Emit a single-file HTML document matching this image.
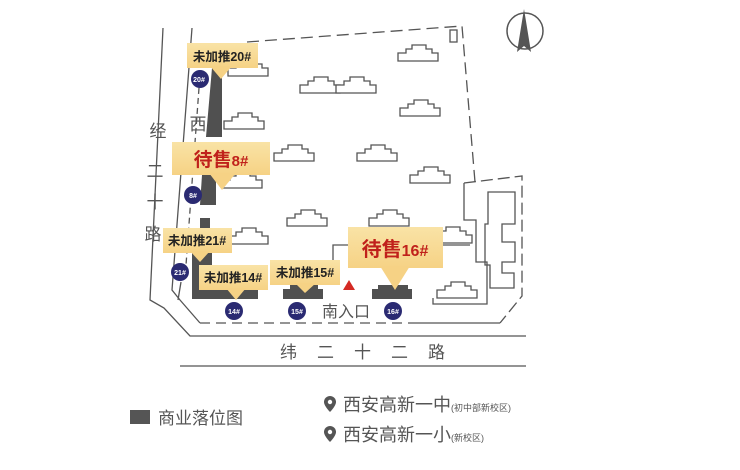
<!DOCTYPE html>
<html><head><meta charset="utf-8"><style>
html,body{margin:0;padding:0;background:#fff;}
svg{display:block;}
text{font-family:"Liberation Sans","Noto Sans CJK SC",sans-serif;}
</style></head><body>
<svg width="740" height="470" viewBox="0 0 740 470" xmlns="http://www.w3.org/2000/svg">
<defs>
<linearGradient id="yg" x1="0" y1="0" x2="0" y2="1"><stop offset="0" stop-color="#f9e3a6"/><stop offset="1" stop-color="#f6d285"/></linearGradient>
<g id="bld" fill="#fff" stroke="#555" stroke-width="1.3">
<path d="M0 16 V8 H8 V4 H14 V0 H28 V4 H34 V8 H40 V16 Z"/>
</g>
</defs>
<rect width="740" height="470" fill="#fff"/>
<!-- roads -->
<g fill="none" stroke="#555" stroke-width="1.3">
<path d="M163 28 L150 300 L164 308 L190 336 H526"/>
<path d="M192 28 L172 290 L180 300 L200 323"/>
<path d="M180 366 H526"/>
<path d="M200 323 H410" stroke-dasharray="10,6"/>
<path d="M410 323 H500"/>
<path d="M199 88 L186 265" stroke-dasharray="6,4"/>
<path d="M181 282 L178 300"/>
<!-- site boundary -->
<path d="M247 42 L462 26 L475 182" stroke-dasharray="12,6"/>
<rect x="450" y="30" width="7" height="12"/>
<!-- right complex -->
<path d="M464 183 L522 176 V296 L500 323" stroke-dasharray="12,5"/>
<path d="M464 183 V220 H476 V262 H487 V304 H433 V298"/>
<path d="M488 192 H515 V224 H502 V242 H515 V262 H502 V273 H514 V288 H490 V265 H485 V224 H488 Z"/>
<path d="M333 270 V245 H348"/>
<path d="M443 245 H470"/>
</g>
<!-- buildings -->
<use href="#bld" x="228" y="60" transform="translate(0,0)"/>
<use href="#bld" x="300" y="77"/>
<use href="#bld" x="336" y="77"/>
<use href="#bld" x="398" y="45" transform="translate(0,0)"/>
<use href="#bld" x="400" y="100"/>
<use href="#bld" x="224" y="113"/>
<use href="#bld" x="274" y="145"/>
<use href="#bld" x="357" y="145"/>
<use href="#bld" x="410" y="167"/>
<use href="#bld" x="222" y="172"/>
<use href="#bld" x="287" y="210"/>
<use href="#bld" x="369" y="210"/>
<use href="#bld" x="432" y="227"/>
<use href="#bld" x="228" y="228"/>
<use href="#bld" x="437" y="282"/>
<!-- commercial strips -->
<g fill="#505050">
<path d="M212 68 H222 L222 137 H206 Z"/>
<path d="M202 175 H216 V205 H200 Z"/>
<path d="M200 218 H210 V232 H200 Z"/>
<path d="M192 250 H212 V290 H258 V299 H192 Z"/>
<path d="M283 299 V289 H290 V285 H318 V289 H323 V299 Z"/>
<path d="M372 299 V289 H378 V285 H408 V289 H412 V299 Z"/>
</g>
<!-- labels -->
<g>
<rect x="187" y="43" width="71" height="25" fill="url(#yg)"/>
<path d="M210 66 H232 L221 79 Z" fill="#f6d285"/>
<text x="222" y="61" font-size="12.5" font-weight="bold" fill="#222" text-anchor="middle">未加推20#</text>

<rect x="172" y="142" width="98" height="33" fill="url(#yg)"/>
<path d="M209 173 H236 L222 190 Z" fill="#f6d285"/>
<text x="221" y="166" text-anchor="middle" font-weight="bold"><tspan font-size="19" fill="#c0211b">待售</tspan><tspan font-size="15" fill="#c0211b">8#</tspan></text>

<rect x="163" y="228" width="69" height="25" fill="url(#yg)"/>
<path d="M190 251 H210 L200 262 Z" fill="#f6d285"/>
<text x="197" y="245" font-size="12.5" font-weight="bold" fill="#222" text-anchor="middle">未加推21#</text>

<rect x="199" y="265" width="69" height="25" fill="url(#yg)"/>
<path d="M226 288 H246 L236 300 Z" fill="#f6d285"/>
<text x="233" y="282" font-size="12.5" font-weight="bold" fill="#222" text-anchor="middle">未加推14#</text>

<rect x="270" y="260" width="70" height="25" fill="url(#yg)"/>
<path d="M295 283 H316 L305 293 Z" fill="#f6d285"/>
<text x="305" y="277" font-size="12.5" font-weight="bold" fill="#222" text-anchor="middle">未加推15#</text>

<rect x="348" y="227" width="95" height="41" fill="url(#yg)"/>
<path d="M380 266 H410 L395 290 Z" fill="#f6d285"/>
<text x="395" y="256" text-anchor="middle" font-weight="bold"><tspan font-size="20" fill="#c0211b">待售</tspan><tspan font-size="16" fill="#c0211b">16#</tspan></text>
</g>
<!-- circles -->
<g fill="#2a2a72">
<circle cx="200" cy="79" r="9"/>
<circle cx="193" cy="195" r="9"/>
<circle cx="180" cy="272" r="9"/>
<circle cx="234" cy="311" r="9"/>
<circle cx="297" cy="311" r="9"/>
<circle cx="393" cy="311" r="9"/>
</g>
<g fill="#fff" font-size="7" font-weight="bold" text-anchor="middle">
<text x="199" y="82">20#</text>
<text x="193" y="198">8#</text>
<text x="180" y="275">21#</text>
<text x="234" y="314">14#</text>
<text x="297" y="314">15#</text>
<text x="393" y="314">16#</text>
</g>
<path d="M349 280 L355 290 H343 Z" fill="#d42a24"/>
<text x="322" y="317" font-size="16" fill="#555">南入口</text>
<text x="280" y="358" font-size="17" fill="#555" letter-spacing="20">纬二十二路</text>
<g font-size="17" fill="#555" text-anchor="middle">
<text x="158" y="137">经</text>
<text x="155" y="177">二</text>
<text x="155" y="208">十</text>
<text x="153" y="240">路</text>
<text x="198" y="130">西</text>
</g>
<!-- compass -->
<circle cx="525" cy="31" r="18" fill="none" stroke="#555" stroke-width="1.5"/>
<path d="M524 9 L531 52 L524 46 L517 52 Z" fill="#555"/>
<!-- legend -->
<rect x="130" y="410" width="20" height="14" fill="#555"/>
<text x="158" y="424" font-size="17" fill="#555">商业落位图</text>
<g fill="#555">
<path d="M330 396 a6 6 0 0 1 6 6 c0 4 -6 10 -6 10 c0 0 -6 -6 -6 -10 a6 6 0 0 1 6 -6 Z"/>
<path d="M330 426 a6 6 0 0 1 6 6 c0 4 -6 10 -6 10 c0 0 -6 -6 -6 -10 a6 6 0 0 1 6 -6 Z"/>
</g>
<circle cx="330" cy="402" r="2.2" fill="#fff"/>
<circle cx="330" cy="432" r="2.2" fill="#fff"/>
<text x="343" y="411" font-size="18" fill="#555">西安高新一中<tspan font-size="9">(初中部新校区)</tspan></text>
<text x="343" y="441" font-size="18" fill="#555">西安高新一小<tspan font-size="9">(新校区)</tspan></text>
</svg>
</body></html>
